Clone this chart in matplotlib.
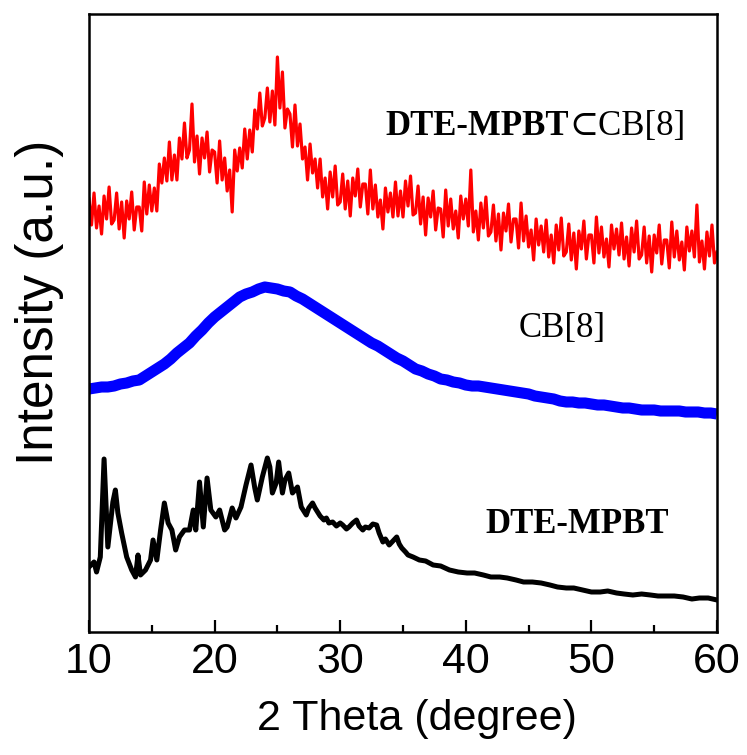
import numpy as np
import matplotlib
matplotlib.use("Agg")
import matplotlib.pyplot as plt

# ---------------- data ----------------
# DTE-MPBT⊂CB[8] (red), sampled every 0.2 degree from 10 to 60
two_theta_red = np.round(np.arange(10.0, 60.0001, 0.2), 1)
red_intensity = [
    433, 407, 439, 404, 426, 398, 436, 413, 445, 408,
    412, 439, 403, 430, 394, 431, 413, 440, 402, 425,
    425, 401, 450, 418, 447, 421, 444, 421, 468, 449,
    474, 451, 490, 452, 477, 452, 494, 473, 509, 474,
    482, 528, 470, 496, 458, 494, 474, 500, 460, 482,
    480, 449, 491, 452, 474, 441, 462, 420, 482, 461,
    484, 464, 503, 473, 502, 480, 522, 503, 539, 506,
    514, 544, 510, 541, 507, 575, 524, 560, 504, 523,
    518, 485, 527, 486, 508, 473, 485, 452, 488, 459,
    473, 444, 473, 435, 454, 423, 460, 435, 466, 427,
    430, 458, 423, 451, 416, 454, 436, 463, 425, 448,
    448, 418, 462, 423, 447, 415, 432, 403, 444, 420,
    439, 415, 450, 416, 441, 415, 451, 426, 456, 417,
    419, 446, 408, 435, 397, 434, 415, 441, 402, 424,
    423, 395, 442, 406, 433, 403, 421, 394, 436, 413,
    433, 406, 462, 400, 421, 392, 429, 404, 435, 396,
    400, 427, 391, 418, 382, 419, 401, 428, 390, 413,
    413, 384, 429, 391, 416, 385, 402, 372, 413, 387,
    406, 380, 412, 375, 397, 369, 407, 382, 414, 376,
    380, 408, 372, 399, 363, 401, 383, 411, 373, 397,
    397, 369, 415, 379, 405, 375, 393, 365, 407, 383,
    403, 377, 409, 373, 395, 366, 404, 380, 411, 373,
    377, 405, 369, 396, 360, 397, 379, 407, 368, 392,
    392, 364, 410, 375, 401, 372, 390, 362, 405, 381,
    401, 375, 427, 370, 391, 363, 400, 376, 407, 369,
    380,
]

# CB[8] (blue), sampled every 0.5 degree from 10 to 60
two_theta_blue = np.round(np.arange(10.0, 60.0001, 0.5), 1)
blue_intensity = [
    243, 244, 245, 245, 246, 248, 249, 251, 252, 256,
    260, 264, 268, 273, 279, 284, 289, 296, 302, 309,
    315, 320, 325, 330, 335, 338, 340, 343, 345, 344,
    343, 341, 340, 336, 333, 329, 325, 321, 317, 313,
    309, 305, 301, 297, 293, 289, 286, 282, 278, 274,
    271, 267, 263, 261, 258, 256, 253, 252, 250, 249,
    247, 246, 246, 245, 244, 243, 242, 241, 240, 239,
    238, 236, 235, 234, 233, 231, 230, 230, 229, 229,
    228, 227, 227, 226, 225, 224, 224, 223, 222, 222,
    222, 221, 221, 221, 221, 220, 220, 220, 219, 219,
    218,
]

# DTE-MPBT (black)
two_theta_black = [
    10.0, 10.4, 10.6, 10.9, 11.2, 11.5, 11.9, 12.1, 12.3, 12.6,
    13.0, 13.4, 13.7, 13.9, 14.1, 14.5, 14.9, 15.1, 15.4, 15.7,
    16.0, 16.3, 16.6, 16.9, 17.2, 17.6, 18.0, 18.3, 18.5, 18.8,
    19.1, 19.4, 19.7, 20.1, 20.4, 20.8, 21.0, 21.4, 21.7, 22.1,
    22.5, 22.9, 23.2, 23.4, 23.8, 24.2, 24.4, 24.6, 24.9, 25.1,
    25.4, 25.6, 25.9, 26.2, 26.6, 26.9, 27.1, 27.3, 27.5, 27.8,
    28.0, 28.2, 28.4, 28.7, 28.9, 29.1, 29.4, 29.7, 30.0, 30.2,
    30.5, 30.7, 31.0, 31.3, 31.5, 31.8, 32.0, 32.3, 32.6, 32.9,
    33.1, 33.4, 33.6, 33.9, 34.2, 34.5, 34.7, 34.9, 35.2, 35.4,
    35.8, 36.3, 36.8, 37.4, 38.0, 38.7, 39.4, 40.1, 40.7, 41.4,
    42.0, 42.7, 43.3, 44.0, 44.6, 45.3, 46.0, 46.7, 47.3, 48.0,
    48.6, 49.3, 50.0, 50.7, 51.3, 52.0, 52.6, 53.3, 54.0, 54.7,
    55.3, 56.0, 56.6, 57.3, 58.0, 58.6, 59.3, 60.0,
]
black_intensity = [
    65, 70, 60, 75, 173, 85, 130, 142, 119, 99,
    75, 62, 55, 77, 57, 62, 72, 92, 72, 102,
    129, 109, 102, 82, 95, 102, 102, 122, 102, 150,
    105, 154, 122, 115, 122, 102, 105, 124, 114, 125,
    147, 167, 144, 132, 155, 174, 165, 139, 149, 170,
    139, 152, 159, 139, 145, 125, 121, 117, 124, 129,
    124, 120, 116, 112, 114, 109, 110, 106, 109, 107,
    103, 105, 109, 112, 106, 102, 105, 104, 108, 107,
    99, 90, 93, 87, 91, 95, 88, 84, 80, 77,
    75, 72, 71, 67, 66, 62, 60, 59, 59, 57,
    55, 55, 54, 52, 50, 50, 49, 47, 45, 44,
    44, 42, 40, 40, 41, 39, 38, 37, 38, 37,
    36, 36, 36, 35, 33, 34, 34, 32,
]

x_major = [10, 20, 30, 40, 50, 60]
x_minor = [15, 25, 35, 45, 55]
x_label = "2 Theta (degree)"
y_label = "Intensity (a.u.)"

# ---------------- figure ----------------
W, H = 747, 755
fig = plt.figure(figsize=(W / 100, H / 100), dpi=100)
L, R, T, B = 89, 717, 14, 632
ax = fig.add_axes([L / W, (H - B) / H, (R - L) / W, (B - T) / H])

sans = ["Liberation Sans", "DejaVu Sans"]
serif = ["Liberation Serif", "DejaVu Serif"]

ax.plot(two_theta_black, black_intensity, color="black", lw=3.6,
        solid_joinstyle="round")
ax.plot(two_theta_blue, blue_intensity, color="#0000ff", lw=8.0,
        solid_joinstyle="round", solid_capstyle="butt")
ax.plot(two_theta_red, red_intensity, color="#ff0000", lw=2.3)

ax.set_xlim(10, 60)
ax.set_ylim(0, 618)
ax.set_xticks(x_major)
ax.set_xticks(x_minor, minor=True)
ax.set_yticks([])
ax.tick_params(axis="x", which="major", direction="in", length=9, width=1.6,
               labelsize=31, pad=7)
ax.tick_params(axis="x", which="minor", direction="in", length=5, width=1.6)
for lab in ax.get_xticklabels():
    lab.set_family(sans)
for sp in ax.spines.values():
    sp.set_linewidth(1.8)

ax.set_xlabel(x_label, fontsize=31, family=sans)
ax.xaxis.set_label_coords(0.522, -0.108)
ax.set_ylabel(y_label, fontsize=37, family=sans)
ax.yaxis.set_label_coords(-0.04, 0.534)

t1 = ax.text(33.6, 497, "DTE-MPBT", fontsize=25, fontweight="bold",
             family=serif, ha="left", va="baseline")
ax.annotate("\u2282CB[8]", xy=(1, 0), xycoords=t1, fontsize=25,
            family=serif, ha="left", va="bottom")
ax.text(47.66, 295, "CB[8]", fontsize=25, family=serif,
        ha="center", va="baseline")
ax.text(48.85, 99, "DTE-MPBT", fontsize=25, fontweight="bold", family=serif,
        ha="center", va="baseline")

fig.savefig("out.png", dpi=100)
